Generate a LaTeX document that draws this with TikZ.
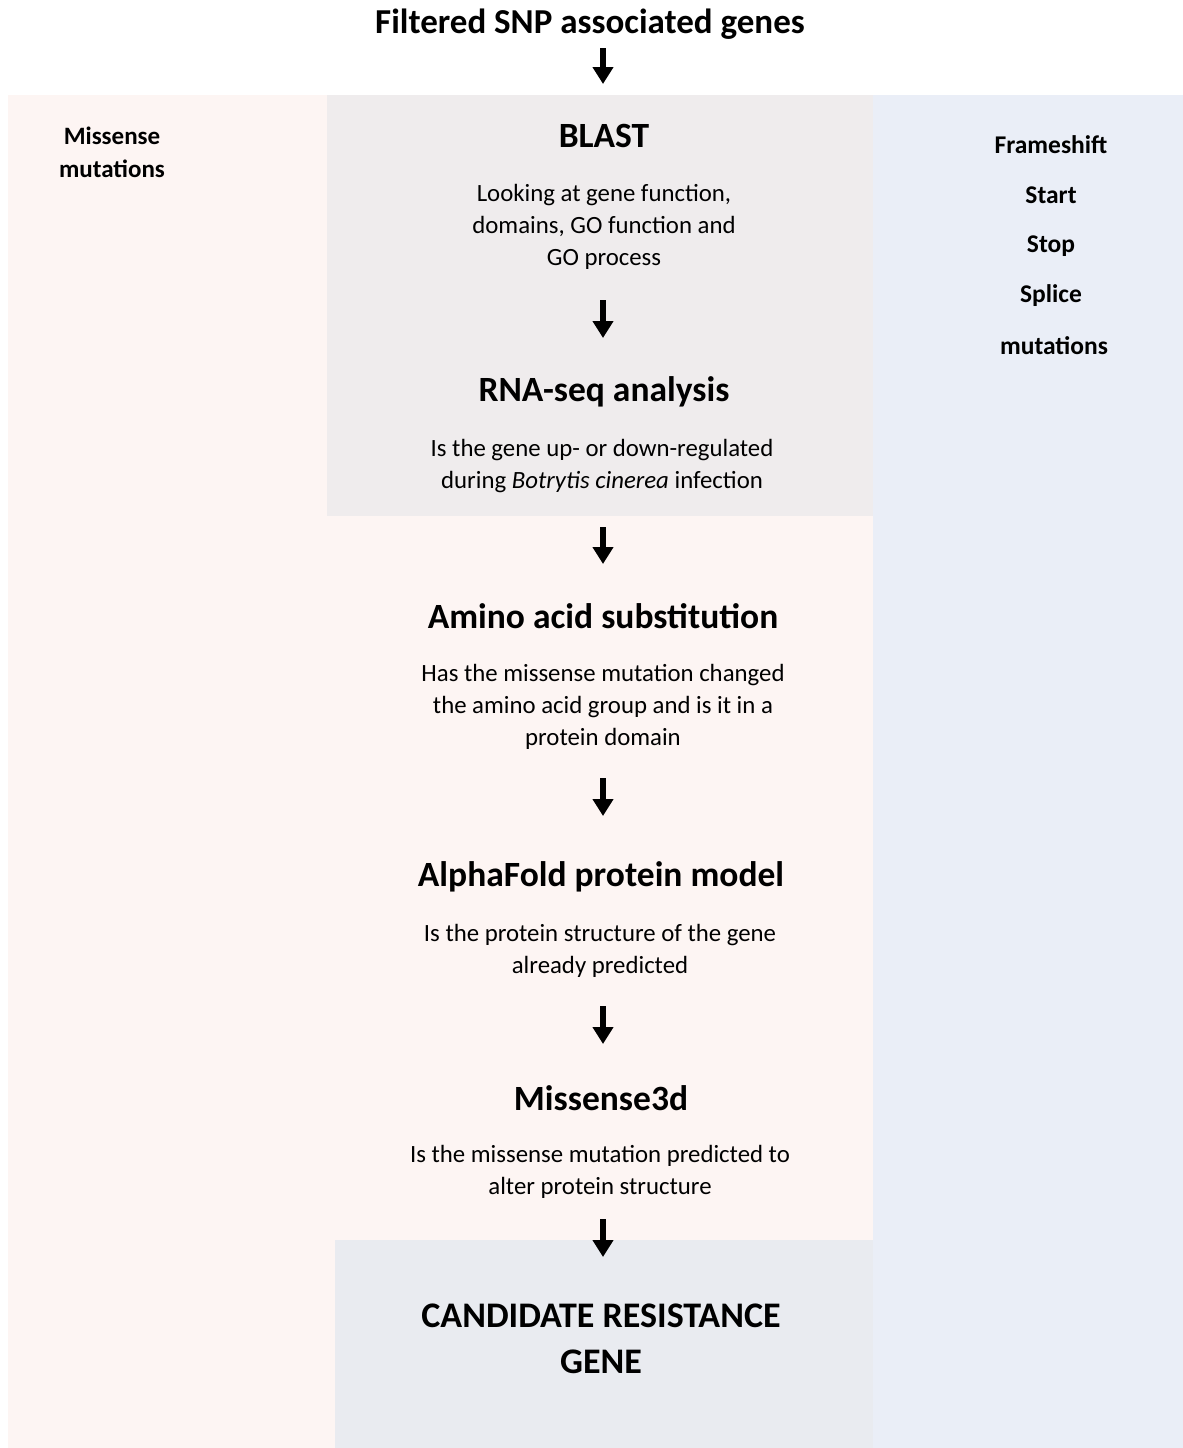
\documentclass[tikz,border=0pt]{standalone}
\usepackage{fontspec}
\setmainfont{Carlito}
\usetikzlibrary{arrows.meta}
\definecolor{pinkbg}{HTML}{FDF5F3}
\definecolor{graybg}{HTML}{EFECED}
\definecolor{bluebg}{HTML}{EAEEF7}
\definecolor{candbg}{HTML}{E9EBF0}
\tikzset{
  heading/.style={font=\fontsize{35.5}{40}\selectfont\bfseries, inner sep=0pt, anchor=center},
  body/.style={font=\fontsize{24.8}{32}\selectfont, align=center, inner sep=0pt, anchor=center},
  side/.style={font=\fontsize{25.5}{33}\selectfont\bfseries, align=center, inner sep=0pt, anchor=center},
  flowarrow/.style={line width=5.5pt, -{Triangle[width=20pt,length=17pt]}},
}
\begin{document}
\begin{tikzpicture}[x=1pt,y=-1pt]
\useasboundingbox (0,0) rectangle (1183,1448);
% backgrounds
\fill[pinkbg] (8,95) rectangle (873,1448);
\fill[bluebg] (873,95) rectangle (1183,1448);
\fill[graybg] (327,95) rectangle (873,516);
\fill[candbg] (335,1240) rectangle (873,1448);
% title
\node[heading, font=\fontsize{35}{40}\selectfont\bfseries] (title) at (590,24) {Filtered SNP associated\ genes};
% left label
\node[side, font=\fontsize{25}{33}\selectfont\bfseries] (missense) at (112,152) {Missense\\mutations};
% right labels
\node[side] (fs) at (1051,145) {Frameshift};
\node[side] (start) at (1051,195) {Start};
\node[side] (stop) at (1051,246) {Stop};
\node[side] (splice) at (1051,296) {Splice};
\node[side] (mut) at (1054,346) {mutations};
% steps
\node[heading] (blast) at (604,136) {BLAST};
\node[body] (blastd) at (604,227) {Looking at gene function,\\domains, GO function and\\GO process};
\node[heading] (rna) at (604,392) {RNA-seq analysis};
\node[body] (rnad) at (602,466) {Is the gene up- or down-regulated\\during \textit{Botrytis cinerea} infection};
\node[heading] (aa) at (603,616) {Amino acid substitution};
\node[body] (aad) at (603,707) {Has the missense mutation changed\\the amino acid group and is it in a\\protein domain};
\node[heading] (af) at (601,877) {AlphaFold protein\ model};
\node[body] (afd) at (600,951) {Is the protein structure of the gene\\already predicted};
\node[heading] (m3d) at (601,1098) {Missense3d};
\node[body] (m3dd) at (600,1172) {Is the missense mutation predicted to\\alter protein structure};
\node[heading, font=\fontsize{36}{46}\selectfont\bfseries, align=center] (cand) at (601,1339) {CANDIDATE\ RESISTANCE\\GENE};
% arrows
\coordinate (a0s) at (603,48); \coordinate (a0e) at (603,84);
\coordinate (a1s) at (603,300); \coordinate (a1e) at (603,338);
\coordinate (a2s) at (603,527); \coordinate (a2e) at (603,564);
\coordinate (a3s) at (603,778); \coordinate (a3e) at (603,816);
\coordinate (a4s) at (603,1006); \coordinate (a4e) at (603,1044);
\coordinate (a5s) at (603,1219); \coordinate (a5e) at (603,1257);
\draw[flowarrow] (a0s) -- (a0e);
\draw[flowarrow] (a1s) -- (a1e);
\draw[flowarrow] (a2s) -- (a2e);
\draw[flowarrow] (a3s) -- (a3e);
\draw[flowarrow] (a4s) -- (a4e);
\draw[flowarrow] (a5s) -- (a5e);
\end{tikzpicture}
\end{document}
